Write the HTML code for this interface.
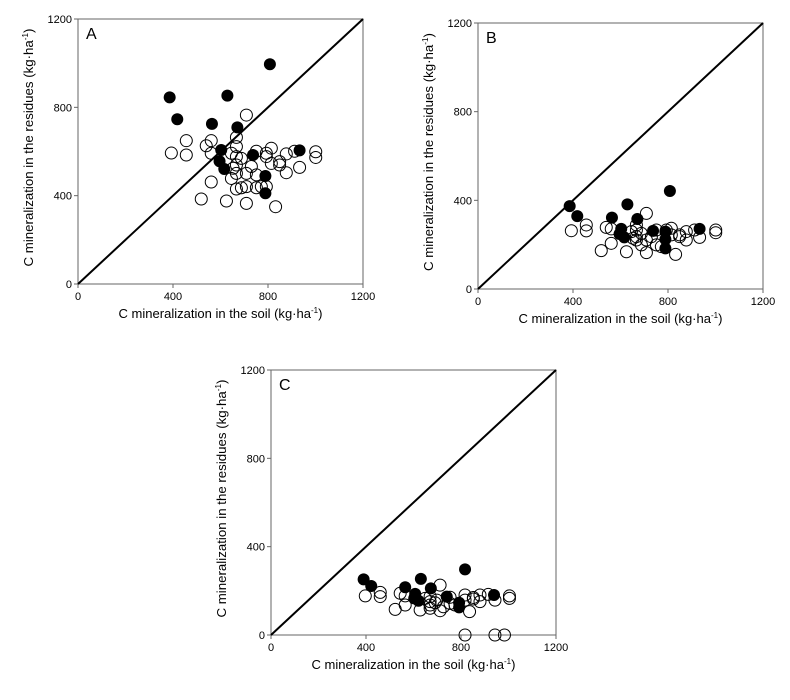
<!DOCTYPE html>
<html><head><meta charset="utf-8"><style>
body{margin:0;background:#fff;width:790px;height:700px;overflow:hidden}
svg{position:absolute;left:0;top:0}
text{font-family:"Liberation Sans Narrow","Liberation Sans",sans-serif;fill:#000}
</style></head><body>
<svg id="chart" width="790" height="700"></svg>
<script>
const ticks=[0,400,800,1200];
const panelLabels=["A","B","C"];
const aFilledX=[386,418,564,629,671,808,603,596,616,737,789,789,933];
const aFilledY=[845,746,725,853,709,995,607,556,521,584,489,411,605];
const aOpenX=[393,456,456,540,561,561,561,519,625,709,709,667,667,646,667,688,667,653,667,646,667,688,709,709,730,751,751,751,772,793,793,793,814,814,849,849,877,877,912,933,832,1001,1001];
const aOpenY=[593,649,584,626,649,592,462,385,376,365,765,664,622,592,577,569,539,524,501,478,430,436,441,501,532,494,601,436,441,441,592,577,615,546,554,539,589,504,601,528,350,599,573];
const bFilledX=[386,418,564,629,671,808,603,596,616,737,789,789,789,933];
const bFilledY=[374,329,322,382,316,442,271,248,233,262,259,224,183,271];
const bOpenX=[393,456,456,540,561,561,519,625,709,709,667,667,646,667,688,667,653,688,709,730,751,751,772,793,814,814,849,849,877,877,912,933,832,1001,1001];
const bOpenY=[263,289,262,278,271,206,173,168,164,341,289,266,259,236,251,221,229,199,221,236,199,266,191,266,274,244,244,236,259,221,266,233,156,266,254];
const cFilledX=[390,422,565,631,673,817,607,603,621,740,792,792,939];
const cFilledY=[252,222,216,254,211,297,186,166,155,174,146,125,181];
const cOpenX=[397,460,460,544,565,565,523,628,712,712,670,670,649,670,691,670,698,726,754,754,775,817,817,852,852,880,880,915,943,836,1004,1004,817,943,983];
const cOpenY=[177,193,174,189,177,136,116,113,110,226,174,151,166,136,146,121,158,128,143,171,136,181,158,170,163,181,151,184,158,106,177,166,0,0,0];

const NS="http://www.w3.org/2000/svg";
const svg=document.getElementById("chart");
function mk(tag,attrs,parent){const e=document.createElementNS(NS,tag);for(const k in attrs)e.setAttribute(k,attrs[k]);(parent||svg).appendChild(e);return e;}
const panels=[
 {x0:78,x1:363,y0:284,y1:19,fx:aFilledX,fy:aFilledY,ox:aOpenX,oy:aOpenY},
 {x0:478,x1:763,y0:289,y1:23,fx:bFilledX,fy:bFilledY,ox:bOpenX,oy:bOpenY},
 {x0:271,x1:556,y0:635,y1:370,fx:cFilledX,fy:cFilledY,ox:cOpenX,oy:cOpenY}
];
panels.forEach((p,i)=>{
 const g=mk("g",{});
 
 
 const sx=v=>p.x0+(p.x1-p.x0)*v/1200, sy=v=>p.y0-(p.y0-p.y1)*v/1200;
 const frame=mk("rect",{x:p.x0,y:p.y1,width:p.x1-p.x0,height:p.y0-p.y1,fill:"none",stroke:"#666","stroke-width":1},g);
 
 
 ticks.forEach(t=>{
  mk("line",{x1:p.x0-4,x2:p.x0,y1:sy(t),y2:sy(t),stroke:"#666"},g);
  mk("line",{x1:sx(t),x2:sx(t),y1:p.y0,y2:p.y0+4,stroke:"#666"},g);
  const yl=mk("text",{x:p.x0-6,y:sy(t)+4,"text-anchor":"end","font-size":11},g);yl.textContent=t;
  
  
  const xl=mk("text",{x:sx(t),y:p.y0+16,"text-anchor":"middle","font-size":11},g);xl.textContent=t;
  
  
 });
 const d=mk("line",{x1:sx(0),y1:sy(0),x2:sx(1200),y2:sy(1200),stroke:"#000","stroke-width":2},g);
 
 
 p.ox.forEach((v,k)=>{
  const c=mk("circle",{cx:sx(v),cy:sy(p.oy[k]),r:6,fill:"#fff","fill-opacity":0,stroke:"#000","stroke-width":1},g);
  
  
 });
 p.fx.forEach((v,k)=>{
  const c=mk("circle",{cx:sx(v),cy:sy(p.fy[k]),r:6,fill:"#000"},g);
  
  
 });
 const lab=mk("text",{x:p.x0+8,y:p.y1+20,"font-size":16},g);lab.textContent=panelLabels[i];
 
 
 const xt=mk("text",{x:(p.x0+p.x1)/2,y:p.y0+34,"text-anchor":"middle","font-size":13,textLength:204,lengthAdjust:"spacingAndGlyphs"},g);
 xt.innerHTML='C mineralization in the soil (kg·ha<tspan dy="-5" font-size="8">-1</tspan><tspan dy="5">)</tspan>';
 
 
 const cx=p.x0-45, cy=(p.y0+p.y1)/2-4;
 const yt=mk("text",{x:cx,y:cy,"text-anchor":"middle","font-size":13,textLength:238,lengthAdjust:"spacingAndGlyphs",transform:`rotate(-90 ${cx} ${cy})`},g);
 yt.innerHTML='C mineralization in the residues  (kg·ha<tspan dy="-5" font-size="8">-1</tspan><tspan dy="5">)</tspan>';
 
 
});
</script>
</body></html>
